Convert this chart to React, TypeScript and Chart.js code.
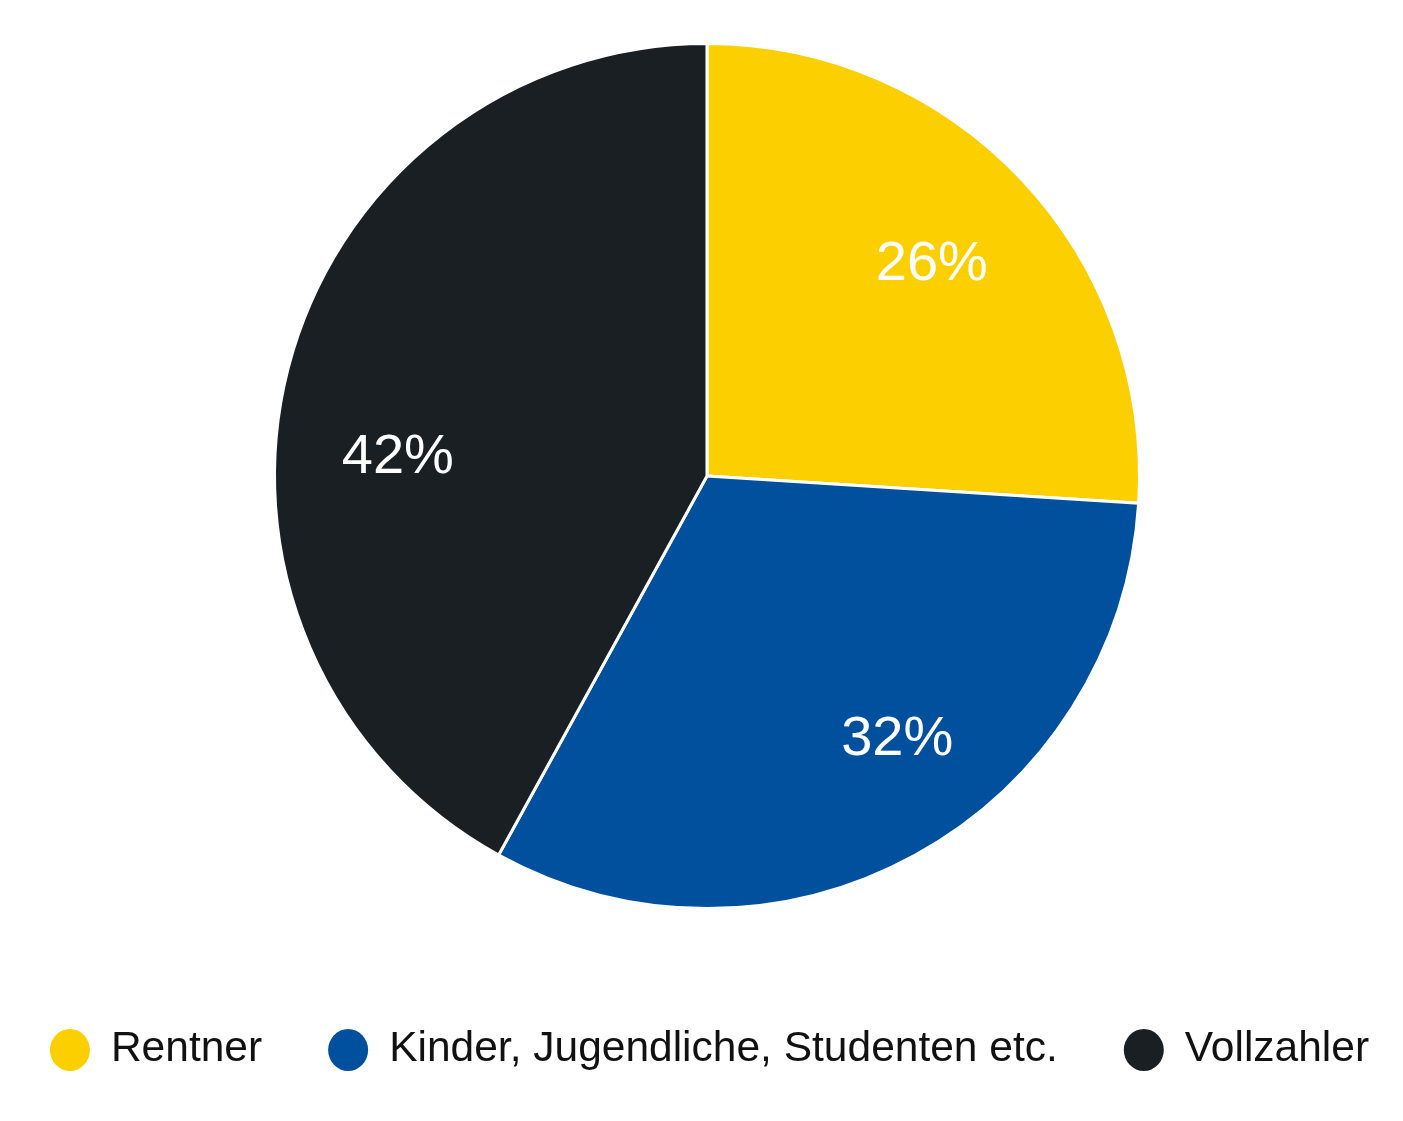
import React, { useEffect, useRef } from "react";
import { Chart, registerables } from "chart.js";

Chart.register(...registerables);

const categories = ["Rentner", "Kinder, Jugendliche, Studenten etc.", "Vollzahler"];
const shares = [26, 32, 42];
const colors = ["#FCD000", "#00509E", "#1A1F24"];

const FONT = '"Liberation Sans", Arial, Helvetica, sans-serif';

// label placement style: angular nudge (deg) and radial fraction per slice label
const labelAngleNudge = [0, -7, -11];
const labelRadiusFrac = [0.713, 0.752, 0.716];

const sliceLabels = {
  id: "sliceLabels",
  afterDatasetsDraw(chart: any) {
    const ctx = chart.ctx;
    const meta = chart.getDatasetMeta(0);
    ctx.save();
    ctx.fillStyle = "#ffffff";
    ctx.font = `56px ${FONT}`;
    ctx.textAlign = "center";
    ctx.textBaseline = "middle";
    meta.data.forEach((arc: any, i: number) => {
      const { x, y, startAngle, endAngle, outerRadius } = arc.getProps(
        ["x", "y", "startAngle", "endAngle", "outerRadius"],
        true
      );
      const mid = (startAngle + endAngle) / 2 + (labelAngleNudge[i] * Math.PI) / 180;
      const r = outerRadius * labelRadiusFrac[i];
      ctx.fillText(`${shares[i]}%`, x + Math.cos(mid) * r, y + Math.sin(mid) * r);
    });
    ctx.restore();
  },
};

const bottomLegend = {
  id: "bottomLegend",
  afterDraw(chart: any) {
    const ctx = chart.ctx;
    const labels: string[] = chart.data.labels;
    const bg: string[] = chart.data.datasets[0].backgroundColor;
    ctx.save();
    ctx.font = `42.5px ${FONT}`;
    ctx.textBaseline = "middle";
    ctx.textAlign = "left";
    const dotR = 20;
    const dotToText = 41;
    const gap = 66;
    const widths = labels.map((l) => ctx.measureText(l).width);
    const total =
      widths.reduce((a, w) => a + dotR + dotToText + w, 0) + gap * (labels.length - 1);
    const cx = chart.width / 2 + 8;
    let x = cx - total / 2;
    const y = chart.chartArea.bottom + 140;
    labels.forEach((l, i) => {
      ctx.fillStyle = bg[i];
      ctx.beginPath();
      ctx.ellipse(x + dotR, y, dotR, dotR + 1, 0, 0, Math.PI * 2);
      ctx.fill();
      ctx.fillStyle = "#111111";
      ctx.fillText(l, x + dotR + dotToText, y - 1);
      x += dotR + dotToText + widths[i] + gap;
    });
    ctx.restore();
  },
};

export default function App() {
  const ref = useRef<HTMLCanvasElement>(null);
  useEffect(() => {
    if (!ref.current) return;
    const chart = new Chart(ref.current, {
      type: "pie",
      data: {
        labels: categories,
        datasets: [
          {
            data: shares,
            backgroundColor: colors,
            borderColor: "#ffffff",
            borderWidth: 3,
            hoverOffset: 0,
          },
        ],
      },
      options: {
        responsive: false,
        animation: false,
        devicePixelRatio: 1,
        layout: { padding: { top: 42, bottom: 211, left: 11, right: 0 } },
        plugins: {
          legend: { display: false },
          tooltip: { enabled: false },
        },
      },
      plugins: [sliceLabels, bottomLegend],
    });
    return () => chart.destroy();
  }, []);
  return (
    <div style={{ position: "absolute", left: 0, top: 0, width: 1403, height: 1121, background: "#ffffff" }}>
      <canvas ref={ref} width={1403} height={1121} style={{ display: "block" }} />
    </div>
  );
}
